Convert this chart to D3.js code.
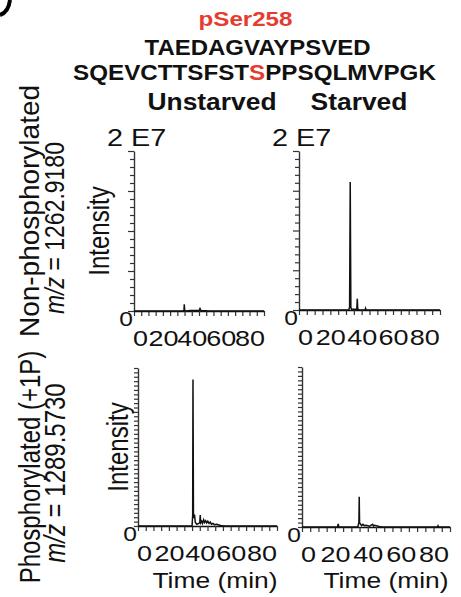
<!DOCTYPE html>
<html>
<head>
<meta charset="utf-8">
<script src="https://cdn.jsdelivr.net/npm/d3@7"></script>
<style>
  body { margin: 0; background: #fff; }
  svg { display: block; font-family: "Liberation Sans", Arial, Helvetica, sans-serif; }
</style>
</head>
<body>
<div id="chart"></div>
<script>
var svgWidth = 461;
var svgHeight = 597;

// labels
var timeTicks = [0, 20, 40, 60, 80];
var conditions = ["Unstarved", "Starved"];
var rowLabels = ["Non-phosphorylated", "Phosphorylated (+1P)"];
var mzValues = ["1262.9180", "1289.5730"];

// extracted ion chromatograms, [time (min), intensity]
var unstarvedNonPhos = [[0, 0], [34.2, 0], [34.6, 0.1e6], [34.8, 0.85e6], [35.1, 0.1e6], [35.8, 0],
  [39.2, 0.05e6], [45.1, 0.05e6], [45.7, 0.3e6], [46.4, 0.05e6], [52, 0], [90, 0]];
var starvedNonPhos = [[0, 0], [31.8, 0], [32.3, 0.4e6], [32.7, 1.61e7], [33.1, 0.3e6], [33.6, 0.1e6],
  [36.9, 0.1e6], [37.2, 1.4e6], [37.5, 0.1e6], [38.5, 0], [42.2, 0], [42.5, 0.2e6], [42.8, 0], [90, 0]];
var unstarvedPhos = [[0, 0], [35, 0], [35.4, 1.2e6], [35.6, 1.67e7], [35.9, 1.45e6], [36.3, 0.9e6],
  [36.6, 1.3e6], [37.1, 0.4e6], [38.1, 0.2e6], [39.4, 0.3e6], [40, 0.4e6], [40.3, 1.25e6],
  [40.6, 0.35e6], [41.3, 0.55e6], [41.8, 0.3e6], [42.5, 0.7e6], [43.1, 0.4e6], [43.8, 0.6e6],
  [44.5, 0.35e6], [45.2, 0.55e6], [46, 0.3e6], [46.8, 0.45e6], [47.6, 0.2e6], [48.5, 0.3e6],
  [49.5, 0.15e6], [51, 0.2e6], [53.5, 0.05e6], [56, 0], [90, 0]];
var starvedPhos = [[0, 0], [21.6, 0], [22, 0.35e6], [22.4, 0], [33.9, 0], [34.3, 0.3e6], [34.6, 0.5e6],
  [34.8, 3.4e6], [35, 0.5e6], [35.6, 0.3e6], [36.3, 0.15e6], [37, 0.3e6], [38, 0.15e6], [39, 0.2e6],
  [41, 0.1e6], [43, 0.3e6], [43.5, 0.1e6], [44.2, 0.2e6], [47, 0.05e6], [49, 0], [82.3, 0],
  [82.7, 0.15e6], [83.1, 0], [90, 0]];

// glyphs in the figure are horizontally stretched
var SX = 1.2;
var red = "#e63c2f";

var svg = d3.select("#chart")
  .append("svg")
  .attr("width", svgWidth)
  .attr("height", svgHeight);

function label(str, x, y, size, opt) {
  opt = opt || {};
  var sx = opt.sx || SX;
  return svg.append("text")
    .attr("transform", `translate(${x},${y}) scale(${sx},1)` + (opt.rot ? " rotate(-90)" : ""))
    .attr("text-anchor", opt.anchor || "middle")
    .attr("font-size", size)
    .attr("font-weight", opt.bold ? "bold" : null)
    .attr("fill", opt.fill || "#111")
    .text(str);
}

// corner of the panel letter cut off at the top left
svg.append("path")
  .attr("d", "M0,15 C6,13 9,8 10,0")
  .attr("fill", "none")
  .attr("stroke", "#000")
  .attr("stroke-width", 4);

// header
label("pSer258", 245.5, 26, 21, {bold: true, fill: red, sx: 1.15});
label("TAEDAGVAYPSVED", 257.5, 55, 22, {bold: true, sx: 1.09});
var seq = label("", 254.5, 80, 22, {bold: true, sx: 1.1});
seq.append("tspan").text("SQEVCTTSFST");
seq.append("tspan").attr("fill", red).text("S");
seq.append("tspan").text("PPSQLMVPGK");
label(conditions[0], 212, 110, 24, {bold: true, sx: 1.1});
label(conditions[1], 359, 110, 24, {bold: true, sx: 1.1});

// row labels
label(rowLabels[0], 39, 211, 28, {rot: true, sx: 1});
var mz1 = label("", 64, 228, 23, {rot: true});
mz1.append("tspan").attr("font-style", "italic").text("m/z");
mz1.append("tspan").text(" = " + mzValues[0]);
label(rowLabels[1], 40, 467, 24, {rot: true});
var mz2 = label("", 65, 473, 24, {rot: true});
mz2.append("tspan").attr("font-style", "italic").text("m/z");
mz2.append("tspan").text(" = " + mzValues[1]);

var panels = [
  {data: unstarvedNonPhos, x0: 134, x1: 264, yTop: 151, yBase: 311, ymax: 2e7, step: 1e6, top: true, left: true, ix: 109},
  {data: starvedNonPhos, x0: 299, x1: 440, yTop: 151, yBase: 310, ymax: 2e7, step: 1e6, top: true},
  {data: unstarvedPhos, x0: 138, x1: 277, yTop: 368, yBase: 526, ymax: 1.8e7, step: 0.5e6, left: true, ix: 128, tx: 215},
  {data: starvedPhos, x0: 302, x1: 450, yTop: 367, yBase: 527, ymax: 1.8e7, step: 0.5e6, tx: 386}
];

panels.forEach(function(p) {
  var x = d3.scaleLinear().domain([0, 90]).range([p.x0, p.x1]);
  var y = d3.scaleLinear().domain([0, p.ymax]).range([p.yBase, p.yTop]);

  var xAxis = d3.axisBottom(x)
    .tickValues(d3.range(0, 91, 5))
    .tickSize(5)
    .tickSizeOuter(0)
    .tickFormat(d => timeTicks.includes(d) ? d : "");
  var gx = svg.append("g")
    .attr("transform", `translate(0, ${p.yBase})`)
    .call(xAxis);
  gx.selectAll("text")
    .attr("y", 35)
    .attr("dy", null)
    .attr("dx", d => d === 0 ? 5 : 0)
    .attr("transform", `scale(${SX},1)`)
    .attr("font-size", 22.5)
    .attr("font-family", "Liberation Sans, Arial, sans-serif")
    .attr("fill", "#111");

  var yAxis = d3.axisLeft(y)
    .tickValues(d3.range(0, p.ymax + 1, p.step))
    .tickSize(4)
    .tickSizeOuter(0)
    .tickFormat("");
  var gy = svg.append("g")
    .attr("transform", `translate(${p.x0}, 0)`)
    .call(yAxis);
  if (p.top) {
    gy.selectAll(".tick line").attr("x2", d => d % 5e6 === 0 ? -6 : -4);
  }

  gx.select(".domain").attr("stroke", "#111").attr("stroke-width", 1.6);
  gy.select(".domain").attr("stroke", "#333").attr("stroke-width", 1.4);
  svg.selectAll(".tick line")
    .attr("stroke", "#333")
    .attr("stroke-width", 1.2);

  svg.append("path")
    .datum(p.data)
    .attr("fill", "none")
    .attr("stroke", "#111")
    .attr("stroke-width", 1.5)
    .attr("d", d3.line().x(d => x(d[0])).y(d => y(d[1])));

  label("0", p.x0 - 1, p.yBase + 15, 20.5, {anchor: "end"});
  if (p.top) {
    label("2 E7", p.x0 - 27, p.yTop - 5, 24, {anchor: "start"});
  }
  if (p.left) {
    label("Intensity", p.ix, (p.yTop + p.yBase) / 2, 24, {rot: true});
  }
  if (!p.top) {
    label("Time (min)", p.tx, 588, 22);
  }
});
</script>
</body>
</html>
